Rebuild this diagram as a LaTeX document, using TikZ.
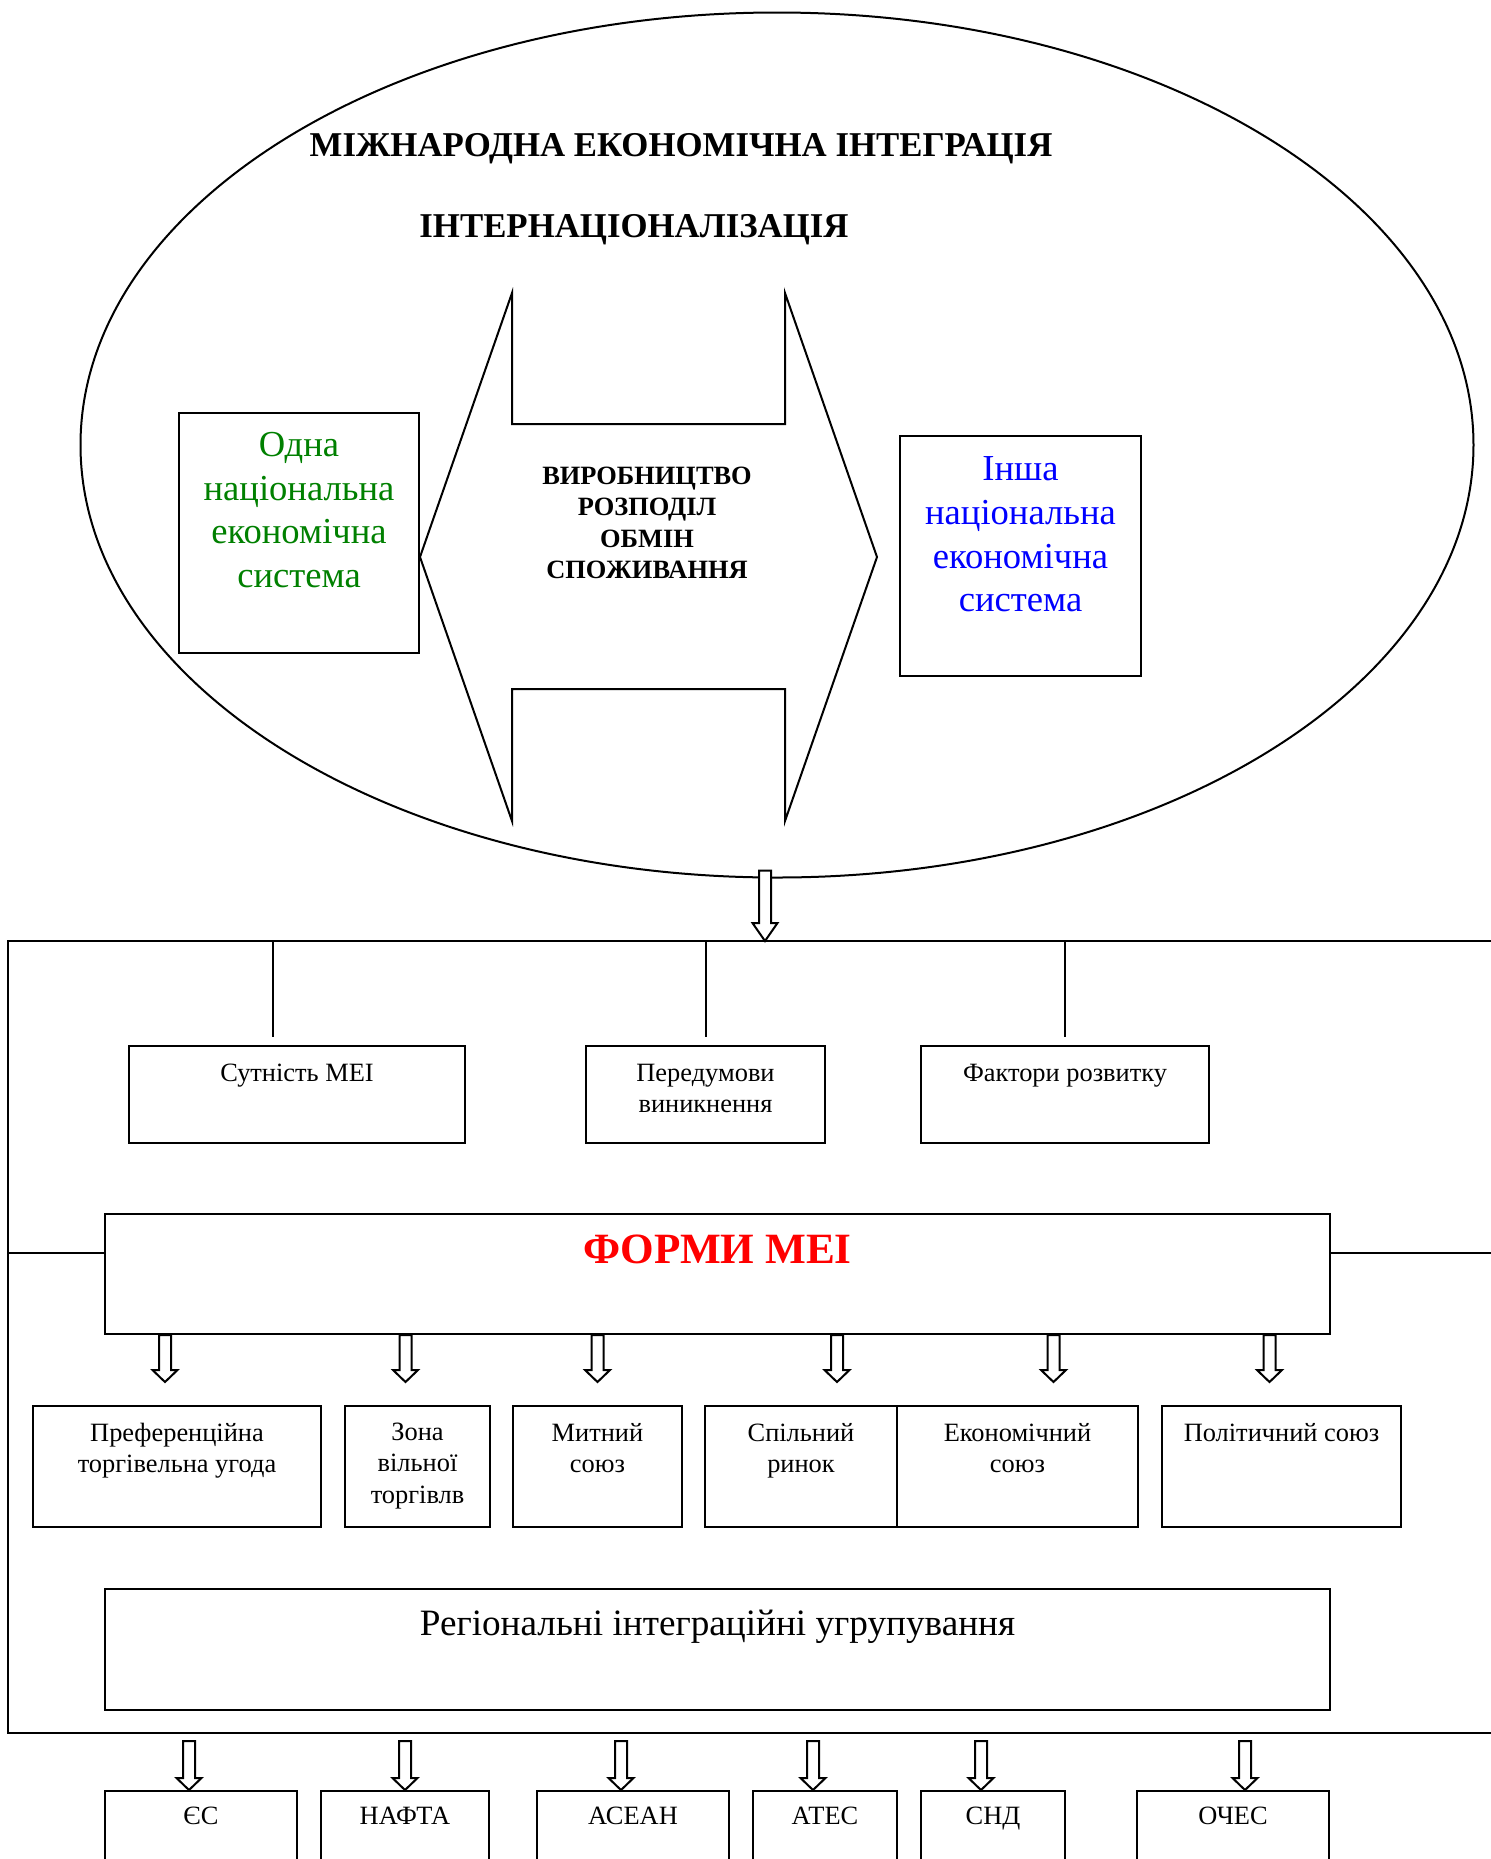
\documentclass[tikz,border=0pt]{standalone}
\usepackage{fontspec}
\setmainfont{Liberation Serif}
\usetikzlibrary{positioning,calc,shapes.geometric}
\colorlet{textgreen}{green!50!black}

\begin{document}
\begin{tikzpicture}[x=0.5pt,y=-0.5pt,line width=1pt,
    box/.style 2 args={draw,minimum width=#1*0.5pt,minimum height=#2*0.5pt,inner sep=0pt},
    txt/.style={inner sep=0pt,align=center,font=\fontsize{13.2pt}{15.7pt}\selectfont},
    big/.style={inner sep=0pt,align=center,font=\fontsize{18.3pt}{21.8pt}\selectfont},
    head/.style={inner sep=0pt,anchor=north,font=\bfseries\fontsize{17.4pt}{20pt}\selectfont},
    hollow/.style={fill=white,to path={let \p1=(\tikztostart),\p2=(\tikztotarget) in
        (\x1-3pt,\y1) -- (\x1-3pt,\y2+#1) -- (\x1-6.25pt,\y2+#1) -- (\x1,\y2)
        -- (\x1+6.25pt,\y2+#1) -- (\x1+3pt,\y2+#1) -- (\x1+3pt,\y1) -- cycle}},
    hollow/.default=6pt]
    \useasboundingbox (0,0) rectangle (1490,1859);
    % upper part
    \node[draw,ellipse,minimum width=1393*0.5pt,minimum height=865*0.5pt,inner sep=0pt] (mei) at (777,445) {};
    \node[head] (titleA) at (681,132) {МІЖНАРОДНА ЕКОНОМІЧНА ІНТЕГРАЦІЯ};
    \node[head] (titleB) at (634,213) {ІНТЕРНАЦІОНАЛІЗАЦІЯ};
    \draw (420,557) -- (512,293) -- (512,424) -- (785,424) -- (785,293) -- (877,557)
        -- (785,821) -- (785,689) -- (512,689) -- (512,821) -- cycle;
    \node[txt,anchor=north,font=\bfseries\fontsize{13.2pt}{15.7pt}\selectfont] (flow) at (647,466)
        {ВИРОБНИЦТВО\\РОЗПОДІЛ\\ОБМІН\\СПОЖИВАННЯ};
    \node[box={240}{240}] (one) at (299,532.5) {};
    \node[big,textgreen,below=10pt of one.north] (oneT) {Одна\\національна\\економічна\\система};
    \node[box={241}{240}] (other) at (1020.5,556) {};
    \node[big,blue,below=10.5pt of other.north] (otherT) {Інша\\національна\\економічна\\система};
    % frame
    \coordinate (frameNW) at (8,941);
    \coordinate (frameNE) at (1500,941);
    \coordinate (frameSW) at (8,1733);
    \coordinate (frameSE) at (1500,1733);
    \draw (frameNE) -- (frameNW) -- (frameSW) -- (frameSE);
    \draw[hollow=9pt] ($(mei.south)+(-6pt,4pt)$) to ($(mei.south |- frameNW)+(-6pt,0)$);
    % first row
    \node[box={336}{97}] (sut) at (297,1094.5) {};
    \node[box={239}{97}] (pered) at (705.5,1094.5) {};
    \node[box={288}{97}] (fakt) at (1065,1094.5) {};
    \node[txt,below=9pt of sut.north] (sutT) {Сутність МЕІ};
    \node[txt,below=9pt of pered.north] (peredT) {Передумови\\виникнення};
    \node[txt,below=9pt of fakt.north] (faktT) {Фактори розвитку};
    \draw ($(sut.north |- frameNW)+(-12pt,0)$) -- ($(sut.north)+(-12pt,4pt)$);
    \draw (pered.north |- frameNW) -- ($(pered.north)+(0,4pt)$);
    \draw (fakt.north |- frameNW) -- ($(fakt.north)+(0,4pt)$);
    % forms
    \node[box={1225}{120}] (formy) at (717.5,1274) {};
    \node[inner sep=0pt,red,font=\bfseries\fontsize{21.6pt}{26pt}\selectfont,below=10.5pt of formy.north] (formyT) {ФОРМИ МЕІ};
    \draw ($(formy.west)+(0,10.5pt)$) -- ($(formy.west -| frameNW)+(0,10.5pt)$);
    \draw ($(formy.east)+(0,10.5pt)$) -- ($(formy.east -| frameNE)+(0,10.5pt)$);
    % second row
    \node[box={288}{121}] (pref) at (177,1466.5) {};
    \node[box={145}{121}] (zona) at (417.5,1466.5) {};
    \node[box={169}{121}] (myt) at (597.5,1466.5) {};
    \node[box={192}{121}] (spil) at (801,1466.5) {};
    \node[box={241}{121}] (ekon) at (1017.5,1466.5) {};
    \node[box={239}{121}] (polit) at (1281.5,1466.5) {};
    \node[txt,below=8.5pt of pref.north] (prefT) {Преференційна\\торгівельна угода};
    \node[txt,below=8.5pt of zona.north] (zonaT) {Зона\\вільної\\торгівлв};
    \node[txt,below=8.5pt of myt.north] (mytT) {Митний\\союз};
    \node[txt,below=8.5pt of spil.north] (spilT) {Спільний\\ринок};
    \node[txt,below=8.5pt of ekon.north] (ekonT) {Економічний\\союз};
    \node[txt,below=8.5pt of polit.north] (politT) {Політичний союз};
    \draw[hollow] ($(pref.north |- formy.south)+(-6pt,0)$) to ($(pref.north)+(-6pt,11.5pt)$);
    \draw[hollow] ($(zona.north |- formy.south)+(-6pt,0)$) to ($(zona.north)+(-6pt,11.5pt)$);
    \draw[hollow] (myt.north |- formy.south) to ($(myt.north)+(0,11.5pt)$);
    \draw[hollow] ($(spil.north |- formy.south)+(18pt,0)$) to ($(spil.north)+(18pt,11.5pt)$);
    \draw[hollow] ($(ekon.north |- formy.south)+(18pt,0)$) to ($(ekon.north)+(18pt,11.5pt)$);
    \draw[hollow] ($(polit.north |- formy.south)+(-6pt,0)$) to ($(polit.north)+(-6pt,11.5pt)$);
    % regional groups
    \node[box={1225}{121}] (reg) at (717.5,1649.5) {};
    \node[big,font=\fontsize{18.6pt}{22pt}\selectfont,below=10.5pt of reg.north] (regT) {Регіональні інтеграційні угрупування};
    \node[box={192}{89}] (es) at (201,1835.5) {};
    \node[box={168}{89}] (nafta) at (405,1835.5) {};
    \node[box={192}{89}] (asean) at (633,1835.5) {};
    \node[box={144}{89}] (ates) at (825,1835.5) {};
    \node[box={144}{89}] (snd) at (993,1835.5) {};
    \node[box={192}{89}] (oches) at (1233,1835.5) {};
    \node[txt,below=8pt of es.north] (esT) {ЄС};
    \node[txt,below=8pt of nafta.north] (naftaT) {НАФТА};
    \node[txt,below=8pt of asean.north] (aseanT) {АСЕАН};
    \node[txt,below=8pt of ates.north] (atesT) {АТЕС};
    \node[txt,below=8pt of snd.north] (sndT) {СНД};
    \node[txt,below=8pt of oches.north] (ochesT) {ОЧЕС};
    \draw[hollow] ($(es.north |- frameSW)+(-6pt,-4pt)$) to ($(es.north)+(-6pt,0)$);
    \draw[hollow] ($(nafta.north |- frameSW)+(0,-4pt)$) to (nafta.north);
    \draw[hollow] ($(asean.north |- frameSW)+(-6pt,-4pt)$) to ($(asean.north)+(-6pt,0)$);
    \draw[hollow] ($(ates.north |- frameSW)+(-6pt,-4pt)$) to ($(ates.north)+(-6pt,0)$);
    \draw[hollow] ($(snd.north |- frameSW)+(-6pt,-4pt)$) to ($(snd.north)+(-6pt,0)$);
    \draw[hollow] ($(oches.north |- frameSW)+(6pt,-4pt)$) to ($(oches.north)+(6pt,0)$);
\end{tikzpicture}
\end{document}
